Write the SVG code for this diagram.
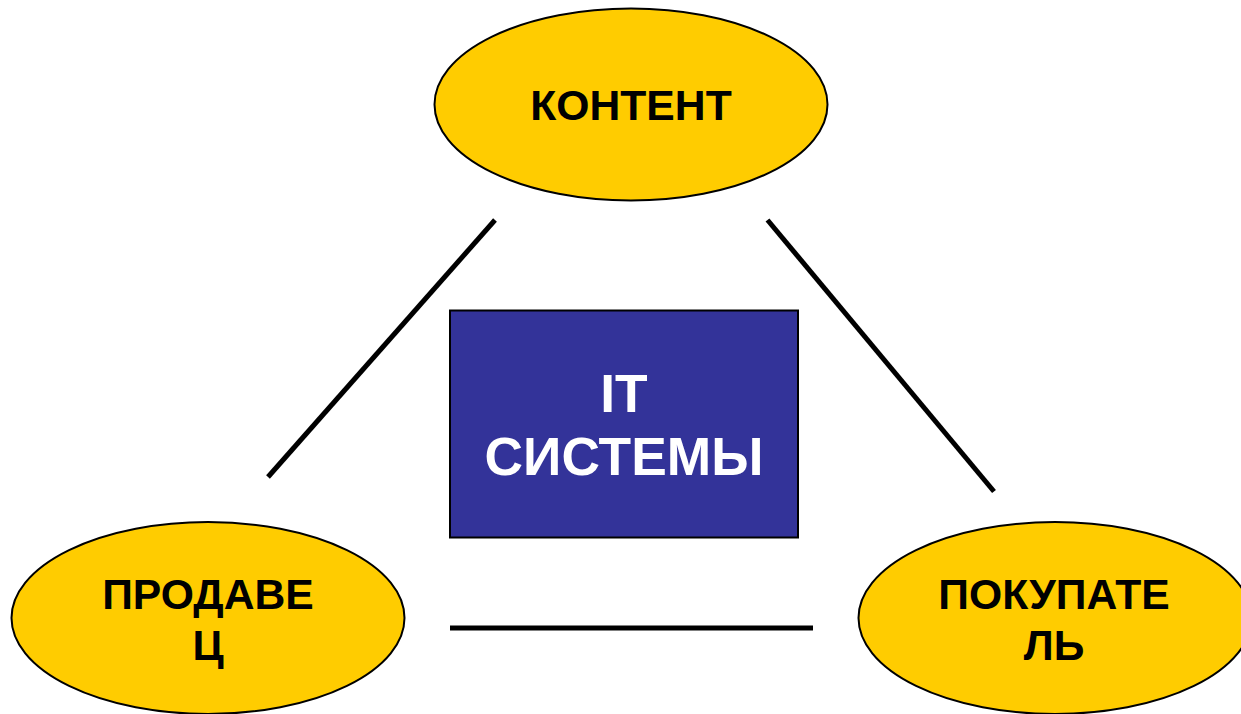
<svg xmlns="http://www.w3.org/2000/svg" width="1241" height="714" viewBox="0 0 1241 714">
<style>
.e{fill:#ffcc00;stroke:#000;stroke-width:2}
.t{font-family:"Liberation Sans",Arial,sans-serif;font-weight:700;text-anchor:middle}
.k{font-size:42.670px;fill:#000}
.w{font-size:53.330px;fill:#fff}
.c{stroke:#000;stroke-width:5;fill:none}
</style>
<rect width="1241" height="714" fill="#fff"/>
<g id="connectors">
<line class="c" x1="495" y1="220" x2="268" y2="477"/>
<line class="c" x1="767.500" y1="220" x2="994" y2="491.500"/>
<line class="c" x1="450" y1="628" x2="813" y2="628"/>
</g>
<g id="node-content">
<ellipse class="e" cx="631" cy="104.500" rx="196.500" ry="96"/>
<text class="t k" x="631" y="120">КОНТЕНТ</text>
</g>
<g id="node-it">
<rect x="450" y="310.500" width="348" height="227" fill="#333399" stroke="#000" stroke-width="2"/>
<text class="t w" x="624" y="412">IT</text>
<text class="t w" x="624" y="475">СИСТЕМЫ</text>
</g>
<g id="node-seller">
<ellipse class="e" cx="208" cy="618" rx="196.500" ry="96"/>
<text class="t k" x="208" y="609">ПРОДАВЕ</text>
<text class="t k" x="208" y="660">Ц</text>
</g>
<g id="node-buyer">
<ellipse class="e" cx="1055" cy="618" rx="196.500" ry="96"/>
<text class="t k" x="1054" y="609">ПОКУПАТЕ</text>
<text class="t k" x="1054" y="660">ЛЬ</text>
</g>
</svg>
